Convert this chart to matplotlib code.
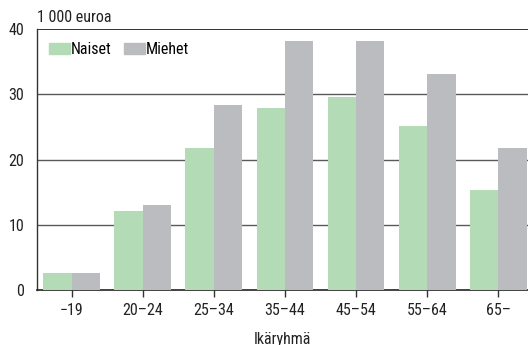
import numpy as np
import matplotlib
matplotlib.use('Agg')
import matplotlib.pyplot as plt
from matplotlib.patches import Patch

plt.rcParams['font.family'] = ['Liberation Sans Narrow', 'Roboto Condensed', 'Liberation Sans', 'DejaVu Sans']

groups = ['\u221219', '20\u201324', '25\u201334', '35\u201344', '45\u201354', '55\u201364', '65\u2013']
naiset = [2.7, 12.1, 21.8, 27.9, 29.6, 25.1, 15.3]
miehet = [2.7, 13.0, 28.4, 38.2, 38.2, 33.1, 21.8]

green = '#b3dbb5'
grey = '#bbbcc0'

fig = plt.figure(figsize=(5.28, 3.45), dpi=100)
ax = fig.add_axes([0.070, 0.159, 0.930, 0.757])

x = np.arange(len(groups))
w = 0.4
ax.bar(x - w / 2, naiset, w, color=green, zorder=3)
ax.bar(x + w / 2, miehet, w, color=grey, zorder=3)

ax.set_xlim(-0.49, 6.42)
ax.set_ylim(0, 40)
ax.set_yticks([0, 10, 20, 30, 40])
for v in [10, 20, 30]:
    ax.axhline(v, color='#5a5a5a', lw=1.0, zorder=1)
ax.axhline(40, color='#222222', lw=1.3, zorder=1)

for s in ['top', 'right']:
    ax.spines[s].set_visible(False)
ax.spines['left'].set_color('#333333')
ax.spines['bottom'].set_color('#222222')
ax.spines['left'].set_linewidth(1.0)
ax.spines['bottom'].set_linewidth(1.2)

ax.set_xticks(x)
ax.set_xticklabels(groups)
ax.tick_params(axis='x', length=5, width=1, color='#333333', labelsize=11.5, pad=4, labelcolor='#222222')
ax.tick_params(axis='y', length=0, labelsize=11.5, pad=9, labelcolor='#222222')

ax.set_xlabel('Ikäryhmä', fontsize=11.5, color='#222222', labelpad=10)
fig.text(0.070, 0.950, '1 000 euroa', fontsize=11.5, color='#222222', va='center', ha='left')

handles = [Patch(color=green, label='Naiset'), Patch(color=grey, label='Miehet')]
ax.legend(handles=handles, loc='upper left', ncol=2, frameon=False, fontsize=11.5,
          handlelength=1.3, handleheight=0.7, handletextpad=0.05, columnspacing=0.8,
          borderaxespad=0.4, bbox_to_anchor=(-0.002, 1.0))

fig.savefig('out.png', dpi=100)
